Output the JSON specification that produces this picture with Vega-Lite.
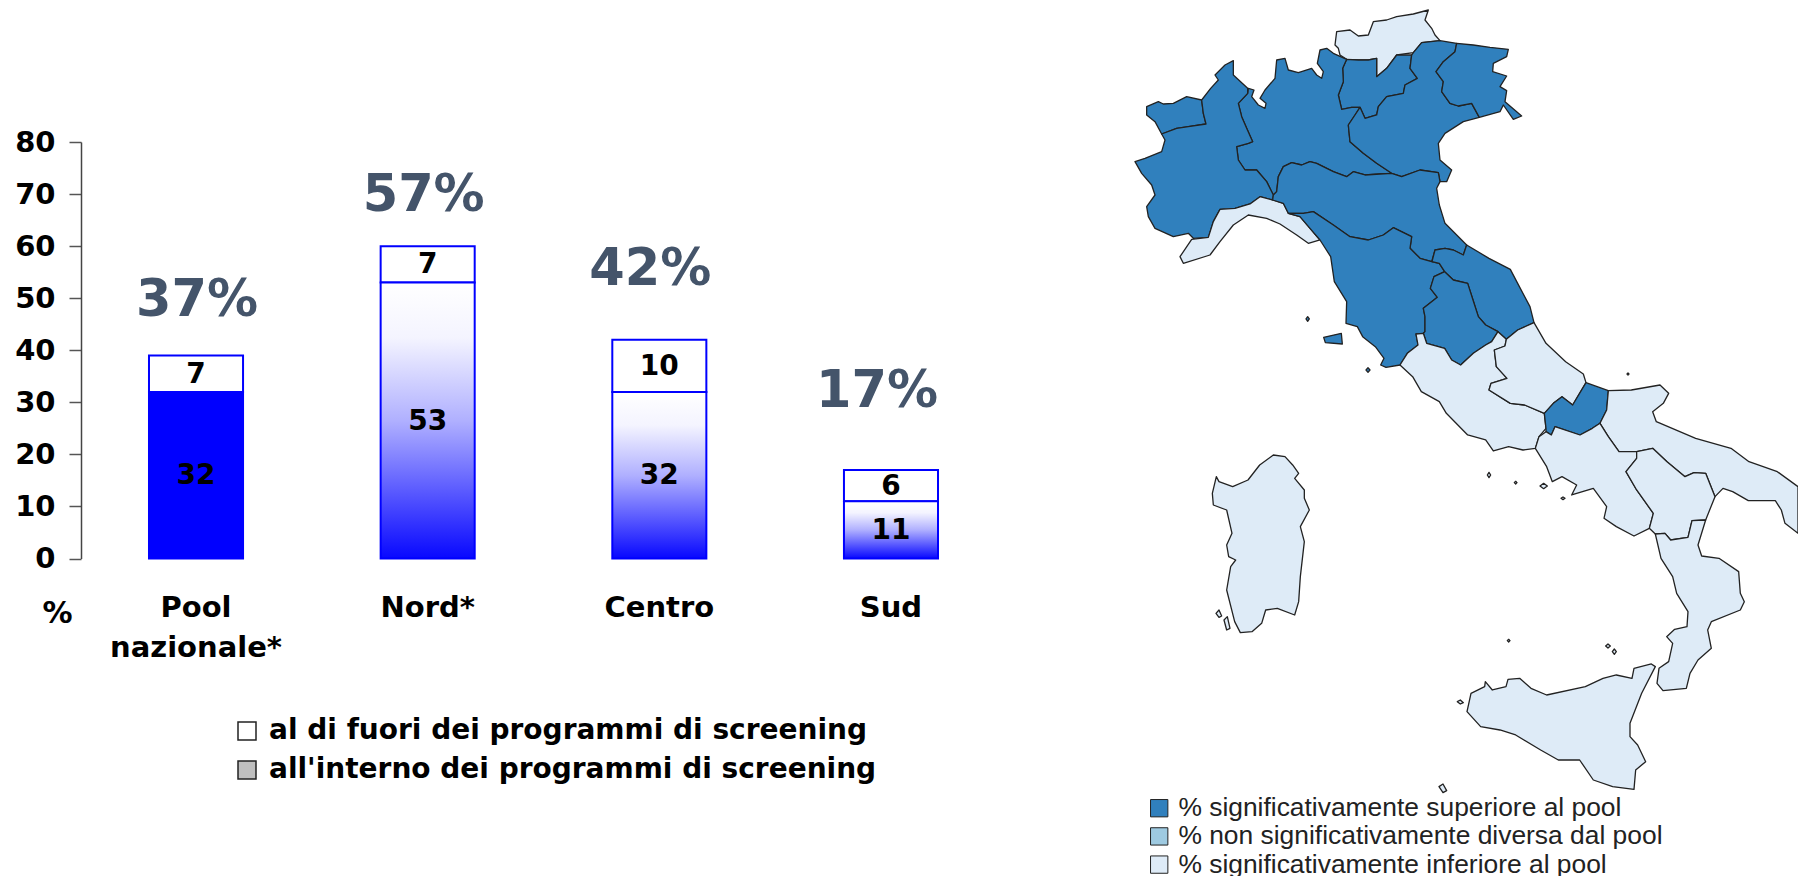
{"$schema":"https://vega.github.io/schema/vega-lite/v6.json","width":1798,"height":876,"padding":0,"autosize":{"type":"none"},"background":"white","config":{"view":{"stroke":null},"axis":{"grid":false}},
"datasets":{
"barre":[
{"regione":"Pool nazionale*","serie":"all'interno dei programmi di screening","valore":32},
{"regione":"Pool nazionale*","serie":"al di fuori dei programmi di screening","valore":7},
{"regione":"Nord*","serie":"all'interno dei programmi di screening","valore":53},
{"regione":"Nord*","serie":"al di fuori dei programmi di screening","valore":7},
{"regione":"Centro","serie":"all'interno dei programmi di screening","valore":32},
{"regione":"Centro","serie":"al di fuori dei programmi di screening","valore":10},
{"regione":"Sud","serie":"all'interno dei programmi di screening","valore":11},
{"regione":"Sud","serie":"al di fuori dei programmi di screening","valore":6}],
"percentuali":[{"regione":"Pool nazionale*","pct":37,"etichetta":"37%"},{"regione":"Nord*","pct":57,"etichetta":"57%"},{"regione":"Centro","pct":42,"etichetta":"42%"},{"regione":"Sud","pct":17,"etichetta":"17%"}],
"mappa":[
{"type":"Feature","properties":{"nome":"Trentino-Alto Adige (Bolzano)","categoria":"% significativamente inferiore al pool"},"geometry":{"type":"Polygon","coordinates":[[[645,135],[650,95],[690,90],[715,108],[745,105],[760,65],[800,60],[830,50],[880,42],[925,30],[915,60],[935,85],[945,105],[960,122],[905,128],[880,158],[830,165],[800,205],[770,230],[770,175],[745,180],[715,180],[680,178],[660,165],[655,145],[645,135]]]}},
{"type":"Feature","properties":{"nome":"Trento","categoria":"% significativamente superiore al pool"},"geometry":{"type":"Polygon","coordinates":[[[680,178],[715,180],[745,180],[770,175],[770,230],[800,205],[830,165],[875,165],[870,205],[892,235],[855,255],[850,280],[800,290],[775,320],[770,345],[735,355],[720,322],[695,322],[665,328],[655,285],[670,245],[668,205],[680,178]]]}},
{"type":"Feature","properties":{"nome":"Lombardia","categoria":"% significativamente superiore al pool"},"geometry":{"type":"Polygon","coordinates":[[[600,150],[620,145],[640,160],[680,178],[668,205],[670,245],[655,285],[665,328],[695,322],[720,322],[705,345],[685,375],[690,425],[730,460],[770,490],[815,520],[780,522],[735,525],[700,515],[680,530],[640,515],[590,490],[570,485],[545,495],[515,488],[490,500],[475,530],[470,575],[460,585],[440,545],[410,510],[375,510],[355,480],[350,440],[385,430],[398,425],[380,385],[365,350],[355,310],[383,280],[385,265],[402,270],[395,290],[415,315],[435,325],[438,310],[420,295],[435,270],[465,235],[470,180],[495,175],[505,210],[535,218],[575,205],[590,225],[605,235],[610,215],[592,190],[600,150]]]}},
{"type":"Feature","properties":{"nome":"Veneto","categoria":"% significativamente superiore al pool"},"geometry":{"type":"Polygon","coordinates":[[[905,128],[960,122],[1010,130],[1005,155],[970,185],[948,215],[970,245],[965,275],[990,310],[1015,318],[1055,310],[1078,352],[1030,365],[975,400],[955,430],[960,480],[995,510],[980,545],[960,545],[955,518],[900,510],[845,530],[815,520],[770,490],[730,460],[690,425],[685,375],[705,345],[720,322],[735,355],[770,345],[775,320],[800,290],[850,280],[855,255],[892,235],[870,205],[875,165],[880,158],[905,128]]]}},
{"type":"Feature","properties":{"nome":"Friuli-Venezia Giulia","categoria":"% significativamente superiore al pool"},"geometry":{"type":"Polygon","coordinates":[[[1010,130],[1060,135],[1110,142],[1165,148],[1160,170],[1120,190],[1118,215],[1160,228],[1140,260],[1160,272],[1155,305],[1205,348],[1180,358],[1150,315],[1140,335],[1078,352],[1055,310],[1015,318],[990,310],[965,275],[970,245],[948,215],[970,185],[1005,155],[1010,130]]]}},
{"type":"Feature","properties":{"nome":"Valle d'Aosta","categoria":"% significativamente superiore al pool"},"geometry":{"type":"Polygon","coordinates":[[[80,320],[115,305],[130,312],[160,310],[200,290],[245,300],[250,340],[258,372],[205,380],[170,385],[125,402],[105,365],[80,345],[80,320]]]}},
{"type":"Feature","properties":{"nome":"Piemonte","categoria":"% significativamente superiore al pool"},"geometry":{"type":"Polygon","coordinates":[[[125,402],[170,385],[205,380],[258,372],[250,340],[245,300],[272,265],[295,240],[285,225],[315,195],[340,182],[340,225],[383,265],[383,280],[355,310],[365,350],[380,385],[398,425],[385,430],[350,440],[355,480],[375,510],[410,510],[440,545],[460,585],[458,600],[420,590],[390,612],[345,625],[300,628],[280,665],[265,712],[220,715],[205,700],[160,710],[105,685],[85,650],[80,620],[105,585],[95,555],[65,520],[45,485],[75,475],[125,455],[135,420],[125,402]]]}},
{"type":"Feature","properties":{"nome":"Liguria","categoria":"% significativamente inferiore al pool"},"geometry":{"type":"Polygon","coordinates":[[[180,770],[215,718],[265,712],[280,665],[300,628],[345,625],[390,612],[420,590],[458,600],[490,610],[505,640],[540,650],[570,685],[600,720],[565,730],[530,705],[480,672],[440,655],[385,645],[340,675],[300,725],[270,765],[190,790],[180,770]]]}},
{"type":"Feature","properties":{"nome":"Emilia-Romagna","categoria":"% significativamente superiore al pool"},"geometry":{"type":"Polygon","coordinates":[[[460,585],[470,575],[475,530],[490,500],[515,488],[545,495],[570,485],[590,490],[640,515],[680,530],[700,515],[735,525],[780,522],[815,520],[845,530],[900,510],[955,518],[960,545],[950,565],[958,615],[975,670],[1040,735],[1030,765],[1000,750],[975,745],[945,750],[935,785],[900,775],[870,745],[875,710],[820,683],[790,705],[745,720],[690,710],[640,675],[580,635],[550,640],[505,640],[490,610],[458,600],[460,585]]]}},
{"type":"Feature","properties":{"nome":"Toscana","categoria":"% significativamente superiore al pool"},"geometry":{"type":"Polygon","coordinates":[[[505,640],[550,640],[580,635],[640,675],[690,710],[745,720],[790,705],[820,683],[875,710],[870,745],[900,775],[935,785],[958,790],[974,815],[942,830],[931,865],[952,892],[910,925],[915,950],[915,995],[910,1000],[888,1002],[894,1035],[862,1060],[840,1095],[798,1102],[782,1095],[792,1075],[766,1040],[728,1010],[712,980],[678,970],[680,905],[643,845],[632,770],[600,720],[570,685],[540,650],[505,640]]]}},
{"type":"Feature","properties":{"nome":"Marche","categoria":"% significativamente superiore al pool"},"geometry":{"type":"Polygon","coordinates":[[[936,785],[945,750],[975,745],[1000,750],[1030,765],[1040,735],[1107,775],[1171,808],[1193,850],[1230,920],[1242,968],[1193,990],[1159,1018],[1134,995],[1097,975],[1075,950],[1059,900],[1043,850],[1000,840],[974,815],[958,790],[936,785]]]}},
{"type":"Feature","properties":{"nome":"Umbria","categoria":"% significativamente superiore al pool"},"geometry":{"type":"Polygon","coordinates":[[[974,815],[1000,840],[1043,850],[1059,900],[1075,950],[1097,975],[1134,995],[1115,1025],[1097,1035],[1060,1060],[1022,1095],[995,1080],[974,1045],[920,1030],[910,1000],[915,995],[915,950],[910,925],[952,892],[931,865],[942,830],[974,815]]]}},
{"type":"Feature","properties":{"nome":"Lazio","categoria":"% significativamente inferiore al pool"},"geometry":{"type":"Polygon","coordinates":[[[888,1002],[910,1000],[920,1030],[974,1045],[995,1080],[1022,1095],[1060,1060],[1097,1035],[1115,1025],[1134,995],[1159,1018],[1155,1038],[1123,1050],[1129,1100],[1161,1135],[1113,1150],[1107,1170],[1171,1210],[1214,1215],[1273,1240],[1278,1285],[1257,1310],[1246,1345],[1209,1350],[1166,1340],[1120,1353],[1097,1320],[1043,1305],[979,1240],[958,1205],[904,1175],[878,1130],[840,1095],[862,1060],[894,1035],[888,1002]]]}},
{"type":"Feature","properties":{"nome":"Abruzzo","categoria":"% significativamente inferiore al pool"},"geometry":{"type":"Polygon","coordinates":[[[1159,1018],[1193,990],[1242,968],[1278,1030],[1337,1085],[1390,1122],[1398,1148],[1358,1215],[1326,1190],[1300,1210],[1273,1240],[1214,1215],[1171,1210],[1107,1170],[1113,1150],[1161,1135],[1129,1100],[1123,1050],[1155,1038],[1159,1018]]]}},
{"type":"Feature","properties":{"nome":"Molise","categoria":"% significativamente superiore al pool"},"geometry":{"type":"Polygon","coordinates":[[[1398,1148],[1465,1172],[1460,1230],[1440,1270],[1417,1285],[1380,1305],[1305,1280],[1294,1305],[1278,1295],[1278,1285],[1273,1240],[1300,1210],[1326,1190],[1358,1215],[1398,1148]]]}},
{"type":"Feature","properties":{"nome":"Puglia","categoria":"% significativamente inferiore al pool"},"geometry":{"type":"Polygon","coordinates":[[[1465,1172],[1534,1170],[1620,1155],[1646,1180],[1630,1210],[1598,1235],[1609,1265],[1727,1315],[1833,1345],[1887,1385],[1972,1415],[2034,1460],[2034,1600],[1995,1570],[1984,1530],[1966,1502],[1885,1502],[1838,1475],[1809,1465],[1785,1490],[1757,1420],[1722,1418],[1695,1430],[1641,1385],[1598,1345],[1550,1355],[1497,1355],[1465,1310],[1440,1270],[1460,1230],[1465,1172]]]}},
{"type":"Feature","properties":{"nome":"Campania","categoria":"% significativamente inferiore al pool"},"geometry":{"type":"Polygon","coordinates":[[[1246,1345],[1257,1310],[1278,1295],[1294,1305],[1305,1280],[1380,1305],[1417,1285],[1440,1270],[1465,1310],[1497,1355],[1550,1355],[1550,1375],[1518,1415],[1550,1470],[1600,1540],[1588,1585],[1542,1608],[1489,1580],[1452,1555],[1460,1520],[1420,1465],[1355,1485],[1370,1455],[1326,1430],[1297,1445],[1280,1400],[1246,1345]]]}},
{"type":"Feature","properties":{"nome":"Basilicata","categoria":"% significativamente inferiore al pool"},"geometry":{"type":"Polygon","coordinates":[[[1550,1355],[1598,1345],[1641,1385],[1695,1430],[1722,1418],[1757,1420],[1785,1490],[1757,1560],[1716,1562],[1704,1612],[1652,1620],[1635,1600],[1606,1602],[1588,1585],[1600,1540],[1550,1470],[1518,1415],[1550,1375],[1550,1355]]]}},
{"type":"Feature","properties":{"nome":"Calabria","categoria":"% significativamente inferiore al pool"},"geometry":{"type":"Polygon","coordinates":[[[1606,1602],[1635,1600],[1652,1620],[1704,1612],[1716,1562],[1757,1560],[1734,1635],[1745,1668],[1797,1675],[1856,1715],[1861,1780],[1873,1805],[1861,1830],[1774,1865],[1763,1890],[1774,1945],[1734,1980],[1710,2020],[1699,2065],[1629,2072],[1611,2050],[1617,2005],[1646,1985],[1658,1930],[1640,1910],[1664,1888],[1701,1880],[1704,1835],[1670,1780],[1658,1730],[1623,1675],[1606,1602]]]}},
{"type":"Feature","properties":{"nome":"Sicilia","categoria":"% significativamente inferiore al pool"},"geometry":{"type":"Polygon","coordinates":[[[1606,2000],[1565,2080],[1530,2170],[1530,2210],[1553,2235],[1577,2285],[1547,2310],[1542,2368],[1478,2360],[1420,2340],[1379,2280],[1315,2280],[1262,2250],[1187,2205],[1140,2190],[1082,2180],[1041,2135],[1053,2080],[1094,2060],[1096,2045],[1117,2070],[1158,2060],[1164,2038],[1199,2035],[1233,2065],[1280,2085],[1396,2060],[1449,2035],[1489,2025],[1536,2035],[1542,2005],[1594,1992],[1606,2000]]]}},
{"type":"Feature","properties":{"nome":"Sardegna","categoria":"% significativamente inferiore al pool"},"geometry":{"type":"Polygon","coordinates":[[[289,1430],[297,1445],[338,1460],[384,1440],[419,1395],[460,1365],[495,1370],[518,1395],[536,1420],[524,1435],[553,1470],[553,1495],[568,1530],[541,1580],[553,1625],[541,1730],[536,1805],[524,1845],[472,1825],[437,1830],[425,1870],[396,1895],[361,1898],[344,1865],[320,1770],[332,1700],[347,1680],[326,1670],[320,1635],[336,1600],[320,1530],[280,1515],[277,1480],[289,1430]]]}},
{"type":"Feature","properties":{"nome":"Arcipelago toscano","categoria":"% significativamente superiore al pool"},"geometry":{"type":"MultiPolygon","coordinates":[[[[611,1012],[664,1000],[667,1032],[616,1028],[611,1012]]],[[[558,957],[563,950],[568,957],[563,964],[558,957]]],[[[738,1110],[744,1103],[750,1110],[744,1117],[738,1110]]]]}},
{"type":"Feature","properties":{"nome":"Isole minori","categoria":"% significativamente inferiore al pool"},"geometry":{"type":"MultiPolygon","coordinates":[[[[1102,1425],[1107,1417],[1112,1425],[1107,1433],[1102,1425]]],[[[1323,1495],[1329,1491],[1335,1495],[1329,1499],[1323,1495]]],[[[1260,1458],[1271,1450],[1282,1458],[1271,1466],[1260,1458]]],[[[1183,1448],[1187,1444],[1191,1448],[1187,1452],[1183,1448]]],[[[1162,1922],[1166,1918],[1170,1922],[1166,1926],[1162,1922]]],[[[1457,1938],[1464,1932],[1471,1938],[1464,1944],[1457,1938]]],[[[1477,1955],[1483,1947],[1489,1955],[1483,1963],[1477,1955]]],[[[1012,2105],[1021,2100],[1030,2108],[1021,2112],[1012,2105]]],[[[957,2360],[969,2352],[980,2372],[969,2378],[957,2360]]],[[[288,1840],[297,1830],[305,1848],[297,1852],[288,1840]]],[[[312,1860],[322,1850],[330,1885],[320,1890],[312,1860]]],[[[1521,1122],[1524,1119],[1527,1122],[1524,1125],[1521,1122]]]]}}
]},
"resolve":{"scale":{"color":"independent"},"legend":{"color":"independent"}},
"layer":[
{"data":{"name":"mappa"},"mark":{"type":"geoshape","stroke":"#222222","strokeWidth":1.3,"strokeJoin":"round"},
"projection":{"type":"identity","scale":0.33333,"translate":[1120,0]},
"encoding":{"color":{"field":"properties.categoria","type":"nominal","scale":{"domain":["% significativamente superiore al pool","% non significativamente diversa dal pool","% significativamente inferiore al pool"],"range":["#3080bd","#9ecae1","#deebf7"]},
"legend":{"orient":"none","legendX":1146,"legendY":795,"title":null,"symbolType":"square","symbolSize":300,"symbolStrokeColor":"#222222","symbolStrokeWidth":1,"symbolOpacity":1,"labelFont":"Liberation Sans","labelFontSize":26.4,"labelColor":"#222222","labelOffset":6,"rowPadding":1.2,"labelLimit":600}}}},
{"data":{"name":"barre"},"transform":[{"stack":"valore","groupby":["regione"],"sort":[{"field":"serie","order":"descending"}],"as":["base","cima"]},{"filter":"datum.serie === 'al di fuori dei programmi di screening'"}],
"mark":{"type":"bar","stroke":"#0000ff","strokeWidth":2},
"encoding":{"x":{"field":"regione","type":"nominal","sort":null,"scale":{"type":"band","domain":["Pool nazionale*","Nord*","Centro","Sud"],"range":[81,1006],"paddingInner":0.594,"paddingOuter":0.2935},
"axis":{"title":null,"orient":"bottom","offset":-283,"domain":false,"ticks":false,"labelPadding":0,"labelAngle":0,"labelAlign":"center","labelBaseline":"top","labelFont":"DejaVu Sans","labelFontWeight":"bold","labelFontSize":29,"labelColor":"#000000","labelLineHeight":40,"labelLimit":300,"labelExpr":"split(datum.label,' ')"}},
"y":{"field":"cima","type":"quantitative","scale":{"domain":[0,80],"range":[558.5,142],"nice":false,"zero":true},
"axis":{"title":"%","titleAngle":0,"titleX":-24,"titleY":628,"titleFont":"DejaVu Sans","titleFontWeight":"bold","titleFontSize":30,"titleColor":"#000000","titleAlign":"center","offset":-81,"values":[0,10,20,30,40,50,60,70,80],"tickSize":12,"tickColor":"#555555","domainColor":"#444444","domainWidth":1.5,"tickWidth":1.5,"labelPadding":14,"labelFont":"DejaVu Sans","labelFontWeight":"bold","labelFontSize":29,"labelColor":"#000000","grid":false}},
"y2":{"field":"base"},
"color":{"field":"serie","type":"nominal","scale":{"domain":["al di fuori dei programmi di screening","all'interno dei programmi di screening"],"range":["#ffffff","#bfbfbf"]},
"legend":{"orient":"none","legendX":233,"legendY":717,"title":null,"symbolType":"square","symbolSize":324,"symbolStrokeColor":"#222222","symbolStrokeWidth":1.5,"labelFont":"DejaVu Sans","labelFontWeight":"bold","labelFontSize":28,"labelColor":"#000000","labelOffset":8,"rowPadding":11,"labelLimit":800}}}},
{"data":{"name":"barre"},"transform":[{"stack":"valore","groupby":["regione"],"sort":[{"field":"serie","order":"descending"}],"as":["base","cima"]},{"filter":"datum.serie === 'all\\'interno dei programmi di screening' && datum.regione === 'Pool nazionale*'"}],
"mark":{"type":"bar","fill":"#0000ff","stroke":"#0000ff","strokeWidth":2},
"encoding":{"x":{"field":"regione","type":"nominal","sort":null},"y":{"field":"cima","type":"quantitative"},"y2":{"field":"base"}}},
{"data":{"name":"barre"},"transform":[{"stack":"valore","groupby":["regione"],"sort":[{"field":"serie","order":"descending"}],"as":["base","cima"]},{"filter":"datum.serie === 'all\\'interno dei programmi di screening' && datum.regione !== 'Pool nazionale*'"}],
"mark":{"type":"bar","stroke":"#0000ff","strokeWidth":2,"fill":{"gradient":"linear","x1":0,"y1":1,"x2":0,"y2":0,"stops":[{"offset":0,"color":"#0808ff"},{"offset":0.5,"color":"#b0b0ff"},{"offset":0.8,"color":"#f4f4ff"},{"offset":1,"color":"#ffffff"}]}},
"encoding":{"x":{"field":"regione","type":"nominal","sort":null},"y":{"field":"cima","type":"quantitative"},"y2":{"field":"base"}}},
{"data":{"name":"barre"},"mark":{"type":"text","font":"DejaVu Sans","fontWeight":"bold","fontSize":28,"color":"#000000","baseline":"middle","dy":1},
"encoding":{"x":{"field":"regione","type":"nominal","sort":null},"y":{"field":"valore","type":"quantitative","stack":"zero","bandPosition":0.5},"order":{"field":"serie","sort":"descending"},"text":{"field":"valore","type":"quantitative"}}},
{"data":{"name":"percentuali"},"transform":[{"filter":"datum.regione === 'Pool nazionale*'"}],"mark":{"type":"text","font":"DejaVu Sans","fontWeight":"bold","fontSize":51,"color":"#44546a","baseline":"middle","dx":1,"dy":-65},
"encoding":{"x":{"field":"regione","type":"nominal","sort":null},"y":{"field":"pct","type":"quantitative"},"text":{"field":"etichetta","type":"nominal"}}},
{"data":{"name":"percentuali"},"transform":[{"filter":"datum.regione === 'Nord*'"}],"mark":{"type":"text","font":"DejaVu Sans","fontWeight":"bold","fontSize":51,"color":"#44546a","baseline":"middle","dx":-4,"dy":-66},
"encoding":{"x":{"field":"regione","type":"nominal","sort":null},"y":{"field":"pct","type":"quantitative"},"text":{"field":"etichetta","type":"nominal"}}},
{"data":{"name":"percentuali"},"transform":[{"filter":"datum.regione === 'Centro'"}],"mark":{"type":"text","font":"DejaVu Sans","fontWeight":"bold","fontSize":51,"color":"#44546a","baseline":"middle","dx":-9,"dy":-70},
"encoding":{"x":{"field":"regione","type":"nominal","sort":null},"y":{"field":"pct","type":"quantitative"},"text":{"field":"etichetta","type":"nominal"}}},
{"data":{"name":"percentuali"},"transform":[{"filter":"datum.regione === 'Sud'"}],"mark":{"type":"text","font":"DejaVu Sans","fontWeight":"bold","fontSize":51,"color":"#44546a","baseline":"middle","dx":-14,"dy":-78},
"encoding":{"x":{"field":"regione","type":"nominal","sort":null},"y":{"field":"pct","type":"quantitative"},"text":{"field":"etichetta","type":"nominal"}}}
]}
